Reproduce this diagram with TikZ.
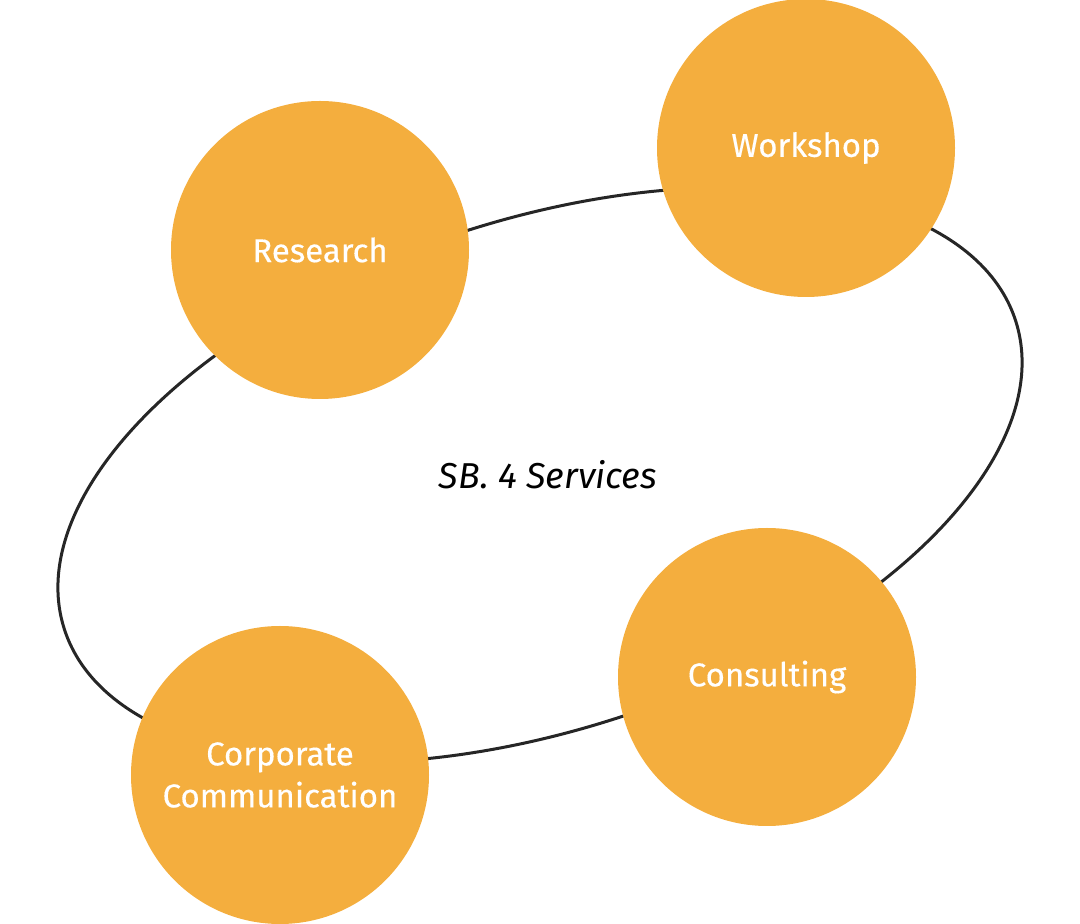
\documentclass[tikz,border=0pt]{standalone}
\usepackage{fontspec}
\setmainfont{Fira Sans}
\definecolor{orng}{HTML}{F4AE3E}
\begin{document}
\begin{tikzpicture}[x=1pt,y=1pt,
  svc/.style={circle,fill=orng,minimum size=298pt,inner sep=0pt,text=white,align=center,font=\fontsize{33}{42}\selectfont\addfontfeature{FakeBold=0.3}}]
\useasboundingbox (0,0) rectangle (1080,924);
\draw[line width=3pt,black!85,rotate around={18:(540,449)}] (540,449) ellipse [x radius=500,y radius=255];
\node (c) at (548,449) {\fontsize{36}{40}\selectfont\itshape SB. 4 Services};
\node[svc] (r) at (320,674) {Research};
\node[svc] (w) at (806,776) {Workshop};
\node[svc] (k) at (767,247) {Consulting};
\node[svc] (p) at (280,149) {Corporate\\Communication};
\end{tikzpicture}
\end{document}
